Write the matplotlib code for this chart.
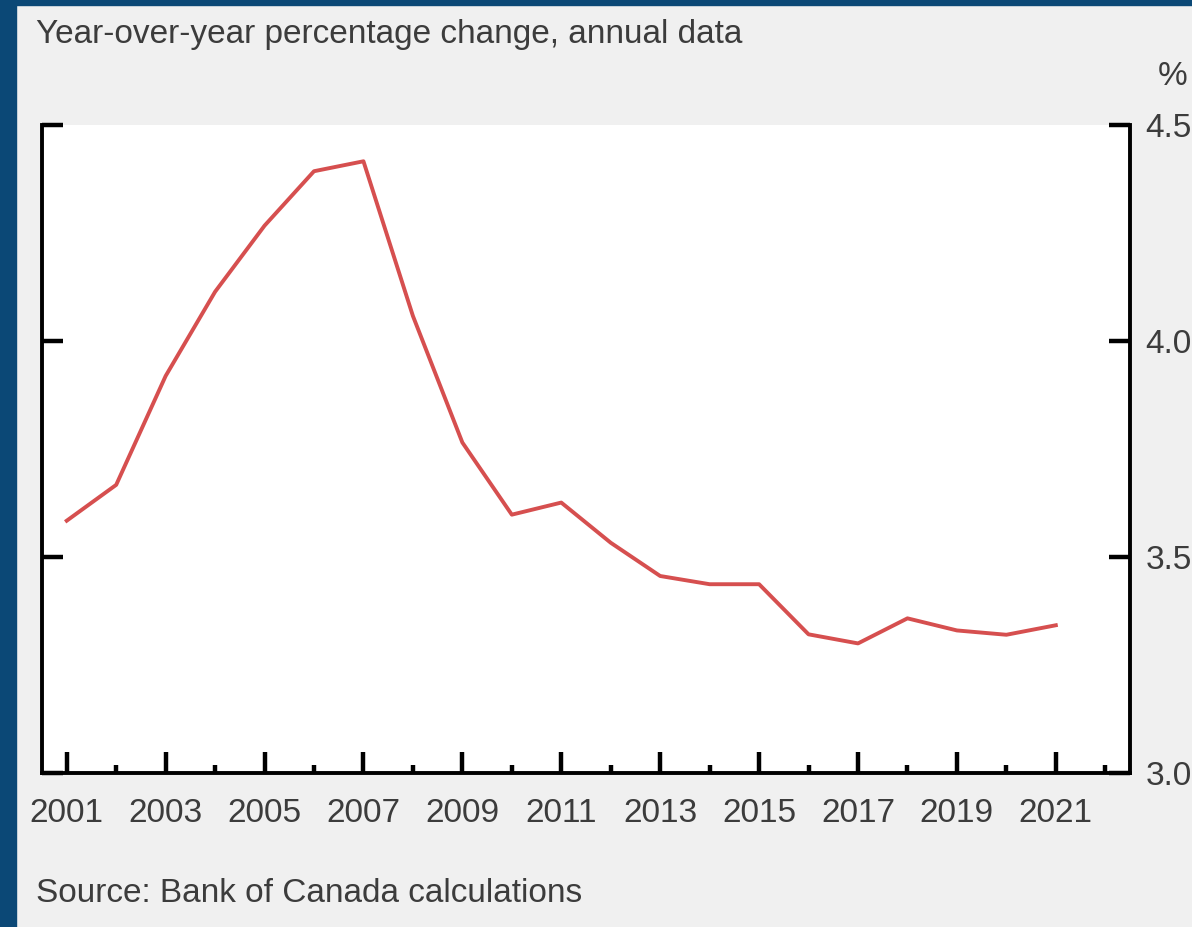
import matplotlib
matplotlib.use('Agg')
import matplotlib.pyplot as plt
from matplotlib.patches import Rectangle
from matplotlib.ticker import FixedLocator

# Data
years = list(range(2001, 2022))
values = [3.584, 3.667, 3.919, 4.114, 4.267, 4.393, 4.416, 4.058, 3.765, 3.598,
          3.626, 3.533, 3.456, 3.437, 3.437, 3.321, 3.300, 3.358, 3.330, 3.320, 3.342]

major_years = list(range(2001, 2022, 2))
minor_years = list(range(2002, 2023, 2))
y_ticks = [3.0, 3.5, 4.0, 4.5]
y_labels = ['3.0', '3.5', '4.0', '4.5']

title_text = 'Year-over-year percentage change, annual data'
source_text = 'Source: Bank of Canada calculations'

plt.rcParams['font.family'] = ['Liberation Sans', 'DejaVu Sans']
text_color = '#3c3c3c'
bg = '#f0f0f0'
border = '#0b4876'
fs = 24

fig = plt.figure(figsize=(11.92, 9.27), dpi=100, facecolor=bg)

# dark blue frame on the left and top edges
fig.patches.append(Rectangle((0, 0), 16 / 1192, 1, transform=fig.transFigure,
                             color=border, zorder=0))
fig.patches.append(Rectangle((0, 1 - 5 / 927), 1, 5 / 927, transform=fig.transFigure,
                             color=border, zorder=0))

ax = fig.add_axes([42 / 1192, 1 - 773 / 927, (1130 - 42) / 1192, (773 - 125) / 927])
ax.set_facecolor('white')

ax.plot(years, values, color='#d64f4f', linewidth=2.8, solid_joinstyle='round')

ax.set_xlim(2000.5, 2022.5)
ax.set_ylim(3.0, 4.5)

ax.spines['top'].set_visible(False)
for s in ['left', 'right', 'bottom']:
    ax.spines[s].set_linewidth(2.8)
    ax.spines[s].set_color('black')

ax.xaxis.set_major_locator(FixedLocator(major_years))
ax.xaxis.set_minor_locator(FixedLocator(minor_years))
ax.set_xticklabels([str(y) for y in major_years])

ax.set_yticks(y_ticks)
ax.set_yticklabels(y_labels)
ax.yaxis.tick_right()
ax.tick_params(axis='y', which='both', left=True, right=True, labelleft=False,
               labelright=True, direction='in', length=15, width=3.2,
               labelsize=fs, labelcolor=text_color, pad=11)
ax.tick_params(axis='x', which='major', direction='in', length=15, width=3.2,
               labelsize=fs, labelcolor=text_color, pad=18)
ax.tick_params(axis='x', which='minor', direction='in', length=6, width=3.2)

fig.text(36 / 1192, 1 - 34 / 927, title_text, fontsize=fs, color=text_color,
         ha='left', va='center')
fig.text(36 / 1192, 1 - 893 / 927, source_text, fontsize=fs, color=text_color,
         ha='left', va='center')
fig.text(1158 / 1192, 1 - 76 / 927, '%', fontsize=fs, color=text_color,
         ha='left', va='center')

fig.savefig('out.png', dpi=100, facecolor=bg)
